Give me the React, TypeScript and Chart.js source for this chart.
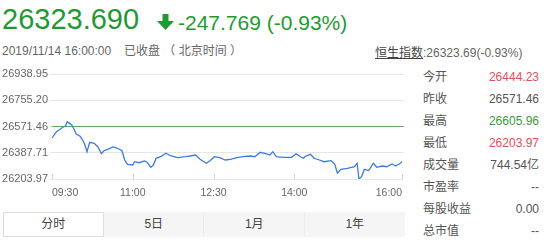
import React, { useEffect, useRef } from "react";
import { Chart, registerables } from "chart.js";

Chart.register(...registerables);

// minutes after 09:30 and Hang Seng index value
const minuteOffsets = [0, 5, 9, 12, 15, 17, 22, 25, 27, 31, 33, 36, 39, 42, 47, 51, 55, 58, 62, 68, 73, 78, 81, 84, 90, 92, 97, 103, 106, 110, 113, 116, 121, 127, 132, 140, 149, 154, 160, 165, 172, 176, 181, 187, 193, 199, 206, 213, 221, 226, 232, 237, 243, 246, 250, 257, 267, 272, 277, 280, 283, 288, 292, 298, 303, 311, 315, 318, 322, 329, 337, 340, 342, 345, 348, 353, 358, 362, 368, 373, 379, 383, 388, 390];
const indexValues = [26491, 26535, 26552, 26566, 26575, 26604, 26582, 26547, 26519, 26505, 26489, 26454, 26395, 26461, 26454, 26430, 26382, 26402, 26412, 26428, 26419, 26402, 26337, 26307, 26302, 26325, 26318, 26330, 26321, 26286, 26302, 26349, 26360, 26384, 26367, 26353, 26360, 26365, 26372, 26342, 26314, 26332, 26360, 26353, 26337, 26342, 26353, 26360, 26365, 26360, 26391, 26384, 26372, 26395, 26360, 26356, 26356, 26380, 26360, 26349, 26365, 26377, 26349, 26337, 26325, 26332, 26309, 26246, 26272, 26279, 26290, 26314, 26204, 26220, 26272, 26263, 26314, 26286, 26295, 26290, 26309, 26295, 26314, 26324];
const prevClose = 26571.46;
const yTicks = [26203.97, 26387.71, 26571.46, 26755.2, 26938.95];
const xTickMinutes = [0, 90, 180, 270, 390];
const xTickLabels = ["09:30", "11:00", "12:30", "14:00", "16:00"];
const xMax = 392;

const statLabels = ["今开", "昨收", "最高", "最低", "成交量", "市盈率", "每股收益", "总市值"];
const statValues = ["26444.23", "26571.46", "26605.96", "26203.97", "744.54亿", "--", "0.00", "--"];
const statKinds = ["down", "flat", "up", "down", "flat", "flat", "flat", "flat"];
const tabLabels = ["分时", "5日", "1月", "1年"];

const FONT = '"Liberation Sans", Arial, "Noto Sans CJK SC", sans-serif';
const GREEN = "#1f9a33";
const RED = "#e24f5b";
const kindColor: Record<string, string> = { down: RED, up: "#3a9a3a", flat: "#555" };

const tickMarks = {
  id: "tickMarks",
  afterDraw(chart: any) {
    const { ctx, chartArea, scales } = chart;
    const x = scales.x;
    ctx.save();
    ctx.strokeStyle = "#d4d4d4";
    ctx.lineWidth = 1;
    x.ticks.forEach((t: any) => {
      const px = Math.round(x.getPixelForValue(t.value)) + 0.5;
      ctx.beginPath();
      ctx.moveTo(px, chartArea.bottom - 5);
      ctx.lineTo(px, chartArea.bottom);
      ctx.stroke();
    });
    ctx.restore();
  },
};

export default function App() {
  const ref = useRef<HTMLCanvasElement | null>(null);
  useEffect(() => {
    if (!ref.current) return;
    const chart = new Chart(ref.current, {
      type: "line",
      data: {
        datasets: [
          {
            data: minuteOffsets.map((m, i) => ({ x: m, y: indexValues[i] })),
            borderColor: "#3b7ddd",
            borderWidth: 1.3,
            pointRadius: 0,
            tension: 0,
            fill: false,
          },
          {
            data: [
              { x: 0, y: prevClose },
              { x: xMax, y: prevClose },
            ],
            borderColor: "#5aa85a",
            borderWidth: 1,
            pointRadius: 0,
            fill: false,
          },
        ],
      },
      options: {
        animation: false,
        responsive: false,
        events: [],
        layout: { padding: { top: 14, right: 3, left: 0, bottom: 0 } },
        plugins: { legend: { display: false }, tooltip: { enabled: false } },
        scales: {
          x: {
            type: "linear",
            min: 0,
            max: xMax,
            grid: { display: false, drawTicks: false },
            border: { display: false },
            afterBuildTicks: (s: any) => {
              s.ticks = xTickMinutes.map((v) => ({ value: v }));
            },
            afterFit: (s: any) => {
              s.height = 21;
            },
            ticks: {
              align: "inner",
              maxRotation: 0,
              autoSkip: false,
              padding: 8,
              color: "#666",
              font: { size: 10.5, family: FONT },
              callback: (_v: any, i: number) => xTickLabels[i],
            },
          },
          y: {
            min: yTicks[0],
            max: yTicks[yTicks.length - 1],
            afterBuildTicks: (s: any) => {
              s.ticks = yTicks.map((v) => ({ value: v }));
            },
            afterFit: (s: any) => {
              s.width = 52;
            },
            grid: { color: "#e6e6e6", tickLength: 2, tickColor: "#e6e6e6" },
            border: { display: false },
            ticks: {
              padding: 2,
              color: "#666",
              font: { size: 11, family: FONT },
              callback: (v: any) => Number(v).toFixed(2),
            },
          },
        },
      } as any,
      plugins: [tickMarks],
    });
    return () => chart.destroy();
  }, []);

  return (
    <div
      style={{
        position: "absolute",
        left: 0,
        top: 0,
        width: 546,
        height: 246,
        overflow: "hidden",
        background: "#fff",
        fontFamily: FONT,
      }}
    >
      <div style={{ position: "absolute", left: 2, top: 5, fontSize: 29, lineHeight: "29px", color: GREEN, whiteSpace: "nowrap" }}>
        26323.690
      </div>
      <svg style={{ position: "absolute", left: 157, top: 14 }} width={17} height={17} viewBox="0 0 17 17">
        <rect x={5.5} y={0} width={6} height={8} fill={GREEN} />
        <polygon points="0,7 17,7 8.5,16" fill={GREEN} />
      </svg>
      <div style={{ position: "absolute", left: 178, top: 12, fontSize: 21, lineHeight: "21px", color: GREEN, whiteSpace: "nowrap" }}>
        -247.769 (-0.93%)
      </div>
      <div style={{ position: "absolute", left: 2, top: 45, fontSize: 12, lineHeight: "12px", color: "#666", whiteSpace: "nowrap" }}>
        2019/11/14 16:00:00
      </div>
      <div style={{ position: "absolute", left: 124, top: 45, fontSize: 12, lineHeight: "12px", color: "#666", whiteSpace: "nowrap" }}>
        已收盘 （ 北京时间 ）
      </div>
      <div style={{ position: "absolute", left: 375, top: 47, fontSize: 12, lineHeight: "12px", color: "#666", whiteSpace: "nowrap" }}>
        <span style={{ textDecoration: "underline", color: "#444" }}>恒生指数</span>:26323.69(-0.93%)
      </div>

      <canvas
        ref={ref}
        width={410}
        height={140}
        style={{ position: "absolute", left: 0, top: 60, width: 410, height: 140 }}
      />

      {statLabels.map((lab, i) => (
        <div key={lab} style={{ position: "absolute", left: 423, top: 70 + i * 22, width: 116, height: 14, fontSize: 12, lineHeight: "14px", whiteSpace: "nowrap" }}>
          <span style={{ position: "absolute", left: 0, top: 0, color: "#555" }}>{lab}</span>
          <span style={{ position: "absolute", right: 0, top: 0, color: kindColor[statKinds[i]] }}>{statValues[i]}</span>
        </div>
      ))}

      <div style={{ position: "absolute", left: 3, top: 212, width: 402, height: 25, background: "#f5f5f5", display: "flex" }}>
        {tabLabels.map((t, i) => (
          <div
            key={t}
            style={{
              flex: 1,
              boxSizing: "border-box",
              height: 25,
              lineHeight: "23px",
              textAlign: "center",
              fontSize: 12,
              color: "#444",
              background: i === 0 ? "#fff" : "#f5f5f5",
              border: i === 0 ? "1px solid #ddd" : "1px solid #f5f5f5",
              borderRight: i === 0 ? "1px solid #ddd" : i < tabLabels.length - 1 ? "1px solid #ececec" : "1px solid #f5f5f5",
            }}
          >
            {t}
          </div>
        ))}
      </div>
    </div>
  );
}
